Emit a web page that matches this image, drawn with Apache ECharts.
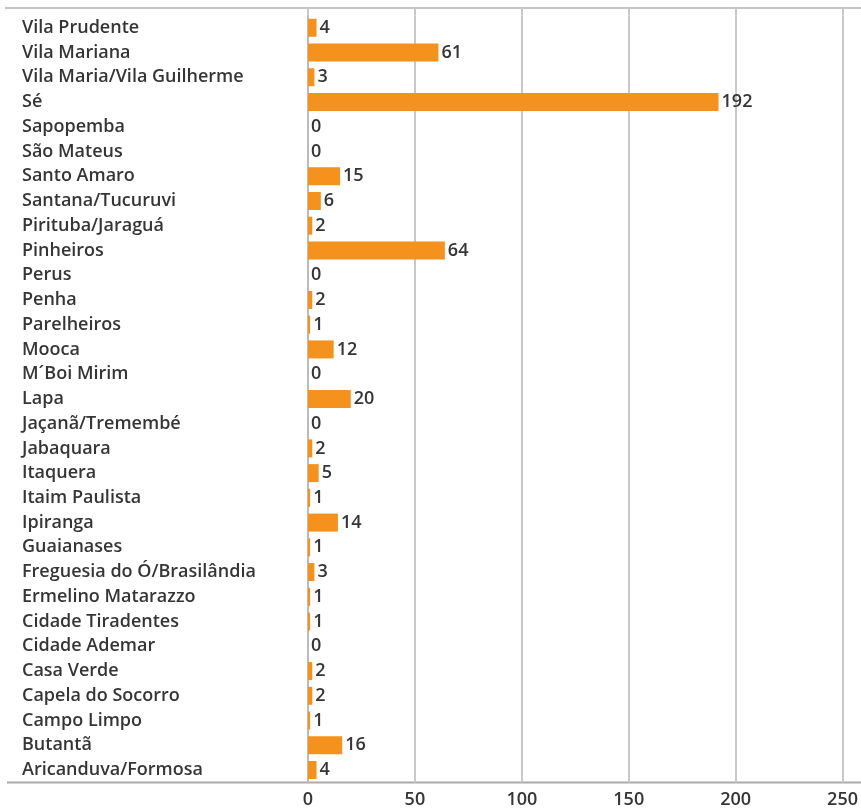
<!DOCTYPE html>
<html>
<head>
<meta charset="utf-8">
<script src="https://cdn.jsdelivr.net/npm/echarts@6/dist/echarts.min.js"></script>
<style>
  html, body { margin: 0; padding: 0; background: #fff; }
  #chart { width: 861px; height: 809px; }
</style>
</head>
<body>
<div id="chart"></div>
<script>
// subprefeituras, top to bottom as in the picture
const districts = [
  'Vila Prudente', 'Vila Mariana', 'Vila Maria/Vila Guilherme', 'Sé', 'Sapopemba',
  'São Mateus', 'Santo Amaro', 'Santana/Tucuruvi', 'Pirituba/Jaraguá', 'Pinheiros',
  'Perus', 'Penha', 'Parelheiros', 'Mooca', 'M´Boi Mirim',
  'Lapa', 'Jaçanã/Tremembé', 'Jabaquara', 'Itaquera', 'Itaim Paulista',
  'Ipiranga', 'Guaianases', 'Freguesia do Ó/Brasilândia', 'Ermelino Matarazzo', 'Cidade Tiradentes',
  'Cidade Ademar', 'Casa Verde', 'Capela do Socorro', 'Campo Limpo', 'Butantã',
  'Aricanduva/Formosa'
]
const counts = [
  4, 61, 3, 192, 0,
  0, 15, 6, 2, 64,
  0, 2, 1, 12, 0,
  20, 0, 2, 5, 1,
  14, 1, 3, 1, 1,
  0, 2, 2, 1, 16,
  4
]
const xTicks = { min: 0, max: 250, step: 50 }

const textColor = '#353535'
const gridColor = '#c8c8c8'
const font = '"Open Sans", Roboto, sans-serif'

const chart = echarts.init(document.getElementById('chart'), null, { renderer: 'canvas' })

chart.setOption({
  animation: false,
  textStyle: { fontFamily: font },
  grid: { left: 308, right: 5, top: 15.4, bottom: 26.6 },
  xAxis: [
    {
      type: 'value',
      min: xTicks.min,
      max: xTicks.max,
      interval: xTicks.step,
      axisLine: { show: false },
      axisTick: { show: false },
      axisLabel: { color: textColor, fontSize: 18, fontWeight: 600, margin: 8, fontFamily: font },
      splitLine: { lineStyle: { color: gridColor, width: 2 } }
    },
    {
      // only used to carry the grid lines up to the top rule
      type: 'value',
      position: 'top',
      offset: 7,
      min: xTicks.min,
      max: xTicks.max,
      interval: xTicks.step,
      axisLine: { show: false },
      axisTick: { show: true, inside: true, length: 7, lineStyle: { color: gridColor, width: 2 } },
      axisLabel: { show: false },
      splitLine: { show: false }
    }
  ],
  yAxis: {
    type: 'category',
    inverse: true,
    data: districts,
    axisLine: { lineStyle: { color: '#bbb', width: 2 } },
    axisTick: { show: false },
    axisLabel: {
      align: 'left',
      margin: 286,
      color: textColor,
      fontSize: 18,
      fontWeight: 600,
      fontFamily: font,
      padding: [3, 0, 0, 0]
    }
  },
  graphic: [
    {
      type: 'line',
      shape: { x1: 5, y1: 8, x2: 861, y2: 8 },
      style: { stroke: '#c4c4c4', lineWidth: 2 }
    },
    {
      type: 'line',
      shape: { x1: 7, y1: 782.5, x2: 861, y2: 782.5 },
      style: { stroke: '#aaa', lineWidth: 2 }
    }
  ],
  series: [
    {
      type: 'bar',
      data: counts,
      barWidth: 18,
      itemStyle: { color: '#F5921E' },
      label: {
        show: true,
        position: 'right',
        distance: 3,
        color: textColor,
        fontSize: 18,
        fontWeight: 600,
        fontFamily: font
      }
    }
  ]
})
</script>
</body>
</html>
